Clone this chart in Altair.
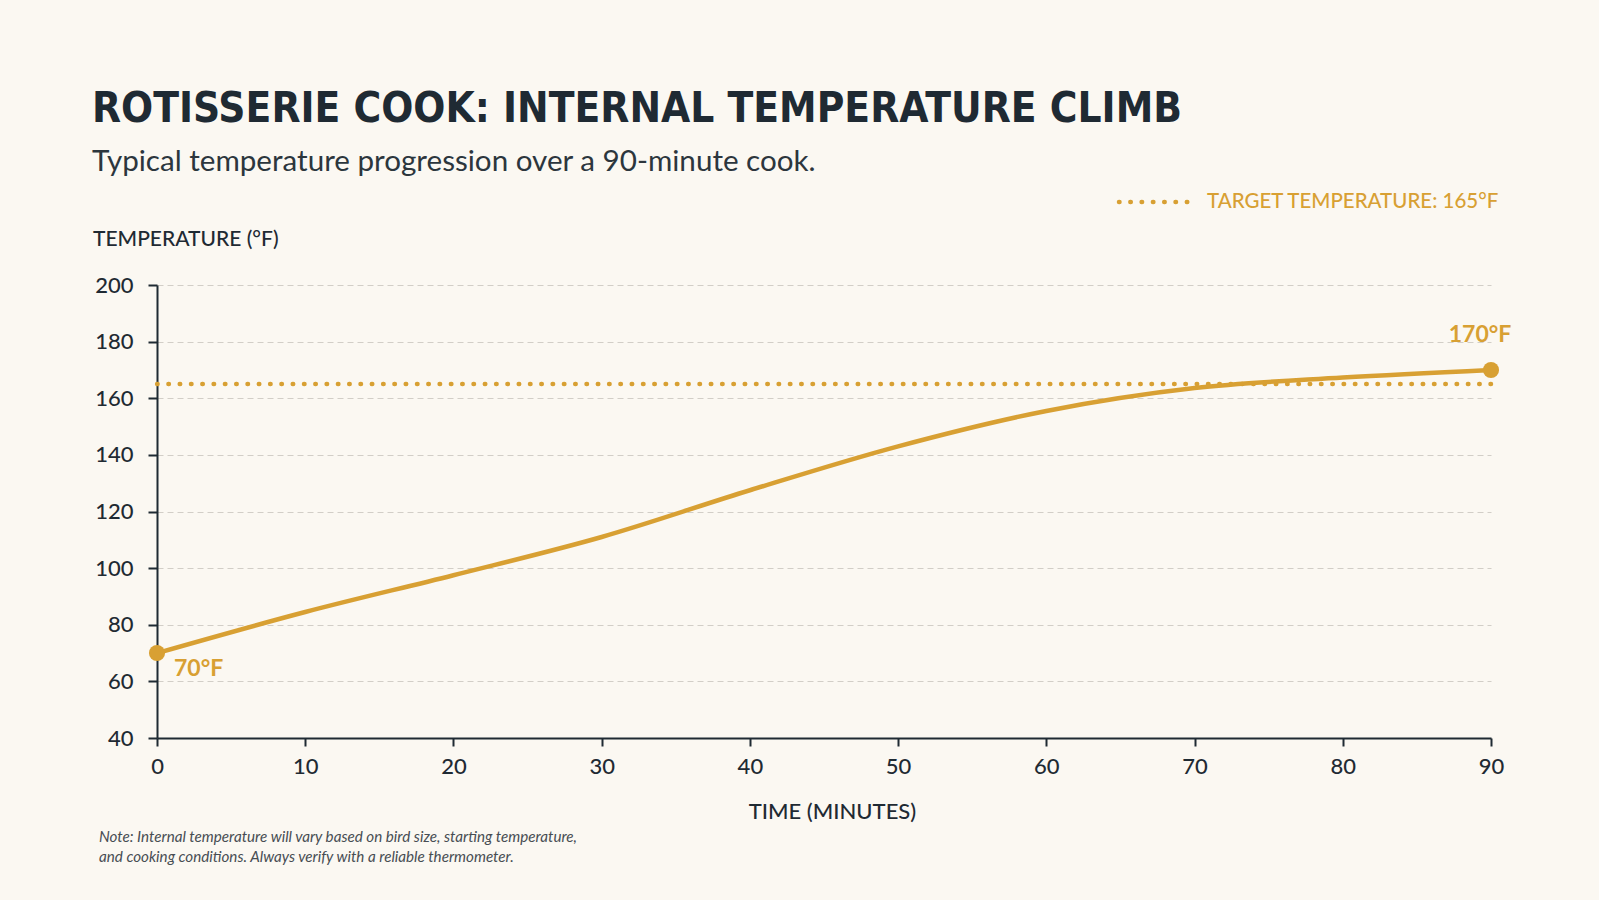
import altair as alt
import pandas as pd

# Internal temperature readings over the cook
minutes = [0, 10, 20, 30, 40, 50, 60, 70, 80, 90]
temps_f = [70, 84.5, 97.5, 111, 127.5, 143, 155.5, 163.6, 167.3, 170]
target_f = 165

x_ticks = [0, 10, 20, 30, 40, 50, 60, 70, 80, 90]
y_ticks = [40, 60, 80, 100, 120, 140, 160, 180, 200]

title_text = "ROTISSERIE COOK: INTERNAL TEMPERATURE CLIMB"
subtitle_text = "Typical temperature progression over a 90-minute cook."
legend_text = f"TARGET TEMPERATURE: {target_f}°F"
y_title = "TEMPERATURE (°F)"
x_title = "TIME (MINUTES)"
note_lines = [
    "Note: Internal temperature will vary based on bird size, starting temperature,",
    "and cooking conditions. Always verify with a reliable thermometer.",
]

GOLD = "#D8A033"
INK = "#1F2A33"
BG = "#FBF8F2"
GRID = "#D2CEC7"
TITLE_FONT = "'Liberation Sans Narrow', 'DejaVu Sans Condensed', sans-serif"

W, H = 1334, 453

curve = pd.DataFrame({"minute": minutes, "temp": temps_f})
ends = pd.DataFrame({
    "minute": [minutes[0], minutes[-1]],
    "temp": [temps_f[0], temps_f[-1]],
    "label": [f"{temps_f[0]:.0f}°F", f"{temps_f[-1]:.0f}°F"],
})
one = pd.DataFrame({"k": [0]})

x_enc = alt.X(
    "minute:Q",
    scale=alt.Scale(domain=[0, 90], nice=False, zero=False),
    axis=alt.Axis(
        values=x_ticks, title=x_title, grid=False, format="d", labelFlush=False,
        domainColor=INK, domainWidth=2, tickColor=INK, tickWidth=2, tickSize=8,
        labelFont="Lato", labelFontSize=22, labelFontWeight=500,
        labelColor=INK, labelPadding=10,
        titleFont="Lato", titleFontSize=22, titleFontWeight=500,
        titleColor=INK, titlePadding=24, titleX=W / 2 + 8,
    ),
)
y_enc = alt.Y(
    "temp:Q",
    scale=alt.Scale(domain=[40, 200], nice=False, zero=False),
    axis=alt.Axis(
        values=y_ticks, title=None, format="d", labelFlush=False,
        domainColor=INK, domainWidth=2, tickColor=INK, tickWidth=2, tickSize=9,
        labelFont="Lato", labelFontSize=22, labelFontWeight=500,
        labelColor=INK, labelPadding=15,
        grid=True, gridColor=GRID, gridDash=[6, 4], gridWidth=1.2,
    ),
)

line = alt.Chart(curve).mark_line(
    color=GOLD, strokeWidth=4.5, interpolate="monotone", strokeCap="round"
).encode(x=x_enc, y=y_enc)

target = alt.Chart(one).mark_rule(
    color=GOLD, strokeWidth=4.5, strokeDash=[0.5, 10.8], strokeCap="round"
).encode(y=alt.datum(target_f))

dots = alt.Chart(ends).mark_circle(color=GOLD, size=260, opacity=1).encode(
    x="minute:Q", y="temp:Q"
)

start_lbl = alt.Chart(ends.iloc[[0]]).mark_text(
    font="Lato", fontSize=23, fontWeight="bold", color=GOLD,
    align="left", baseline="middle", dx=17, dy=16,
).encode(x="minute:Q", y="temp:Q", text="label:N")

end_lbl = alt.Chart(ends.iloc[[1]]).mark_text(
    font="Lato", fontSize=23, fontWeight="bold", color=GOLD,
    align="center", baseline="middle", dx=-11, dy=-35,
).encode(x="minute:Q", y="temp:Q", text="label:N")

title = alt.Chart(one).mark_text(
    text=title_text, font=TITLE_FONT, fontSize=42,
    fontWeight="bold", color=INK, align="left", baseline="alphabetic",
).encode(x=alt.value(-65), y=alt.value(-163))

subtitle = alt.Chart(one).mark_text(
    text=subtitle_text, font="Lato", fontSize=29.6, color="#2C363D",
    align="left", baseline="alphabetic",
).encode(x=alt.value(-65), y=alt.value(-114))

legend_rule = alt.Chart(one).mark_rule(
    color=GOLD, strokeWidth=4.5, strokeDash=[0.5, 10.8], strokeCap="round"
).encode(x=alt.value(962), x2=alt.value(1032), y=alt.value(-83))

legend_lbl = alt.Chart(one).mark_text(
    text=legend_text, font="Lato", fontSize=20.5, fontWeight=500, color=GOLD,
    align="left", baseline="middle",
).encode(x=alt.value(1050), y=alt.value(-83))

y_title_lbl = alt.Chart(one).mark_text(
    text=y_title, font="Lato", fontSize=21, fontWeight=500, color=INK,
    align="left", baseline="middle",
).encode(x=alt.value(-64), y=alt.value(-45))

note = alt.Chart(one).mark_text(
    text=note_lines, font="Lato", fontSize=15.2, fontStyle="italic",
    color="#474D53", align="left", baseline="middle", lineHeight=20,
).encode(x=alt.value(-58), y=alt.value(552))

chart = alt.layer(
    target, line, dots, start_lbl, end_lbl,
    title, subtitle, legend_rule, legend_lbl, y_title_lbl, note,
).properties(
    width=W, height=H,
    autosize=alt.AutoSizeParams(type="none"),
    padding={"left": 157, "top": 285, "right": 108, "bottom": 162},
    background=BG,
).configure_view(stroke=None)

chart.save("out.html", embed_options={"renderer": "svg", "actions": False})
